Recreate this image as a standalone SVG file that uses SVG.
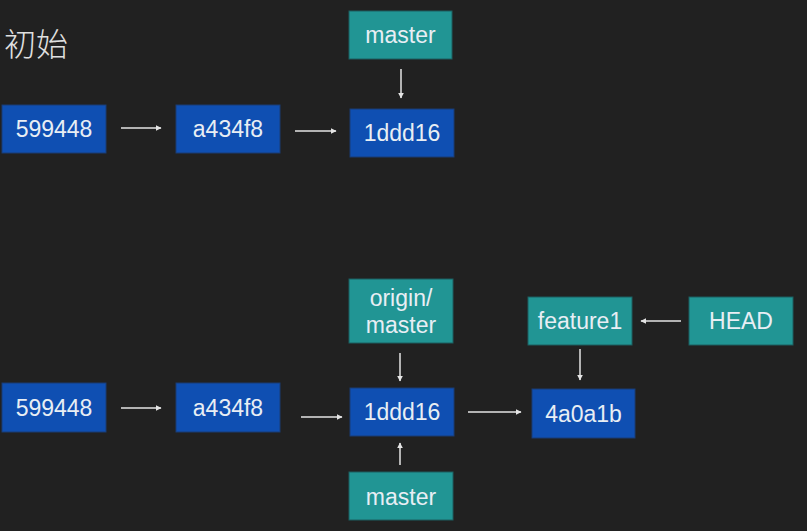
<svg xmlns="http://www.w3.org/2000/svg" width="807" height="531" viewBox="0 0 807 531">
<defs>
<style>
.bg{fill:#212121}
.commit rect{fill:#0f4fb2;stroke:#1b3c74;stroke-width:1}
.ref rect{fill:#219594;stroke:#1c5f60;stroke-width:1}
text{font-family:"Liberation Sans",Arial,sans-serif;font-size:23px;fill:#e8eef4;text-anchor:middle}
.title{font-family:"Noto Sans CJK SC","Liberation Sans",sans-serif;font-size:32px;font-weight:300;fill:#e0e0e0;text-anchor:start}
.conn line{stroke:#e4e4e4;stroke-width:1.5;marker-end:url(#ah)}
</style>
<marker id="ah" viewBox="0 0 10 10" refX="9" refY="5" markerWidth="6" markerHeight="6" orient="auto" markerUnits="userSpaceOnUse">
<path d="M0,0 L10,5 L0,10 z" fill="#e4e4e4"/>
</marker>
</defs>
<rect class="bg" x="0" y="0" width="807" height="531"/>
<text class="title" x="4" y="56">初始</text>

<g id="top-599448" class="commit"><rect x="2" y="105" width="104" height="48"/><text x="54" y="137">599448</text></g>
<g id="top-a434f8" class="commit"><rect x="176" y="105" width="104" height="48"/><text x="228" y="137">a434f8</text></g>
<g id="top-1ddd16" class="commit"><rect x="350" y="109" width="104" height="48"/><text x="402" y="141">1ddd16</text></g>
<g id="top-master" class="ref"><rect x="349" y="11" width="103" height="48"/><text x="400.5" y="43">master</text></g>

<g id="bot-599448" class="commit"><rect x="2" y="383" width="104" height="49"/><text x="54" y="416">599448</text></g>
<g id="bot-a434f8" class="commit"><rect x="176" y="383" width="104" height="49"/><text x="228" y="416">a434f8</text></g>
<g id="bot-1ddd16" class="commit"><rect x="350" y="388" width="104" height="48"/><text x="402" y="420">1ddd16</text></g>
<g id="bot-4a0a1b" class="commit"><rect x="532" y="389" width="103" height="49"/><text x="583.5" y="422">4a0a1b</text></g>
<g id="bot-origin-master" class="ref"><rect x="349" y="279" width="104" height="64"/><text x="401" y="306">origin/</text><text x="401" y="333">master</text></g>
<g id="bot-master" class="ref"><rect x="349" y="472" width="104" height="48"/><text x="401" y="505">master</text></g>
<g id="bot-feature1" class="ref"><rect x="528" y="297" width="104" height="48"/><text x="580" y="329">feature1</text></g>
<g id="bot-HEAD" class="ref"><rect x="689" y="297" width="104" height="48"/><text x="741" y="329">HEAD</text></g>

<g id="connectors" class="conn">
<line x1="121" y1="128" x2="161" y2="128"/>
<line x1="295" y1="131" x2="336" y2="131"/>
<line x1="401" y1="69" x2="401" y2="98"/>
<line x1="121" y1="408" x2="161" y2="408"/>
<line x1="301" y1="417" x2="342" y2="417"/>
<line x1="400" y1="353" x2="400" y2="381"/>
<line x1="400" y1="465" x2="400" y2="443"/>
<line x1="468" y1="412" x2="521" y2="412"/>
<line x1="580" y1="349" x2="580" y2="380"/>
<line x1="681" y1="321" x2="641" y2="321"/>
</g>
</svg>
